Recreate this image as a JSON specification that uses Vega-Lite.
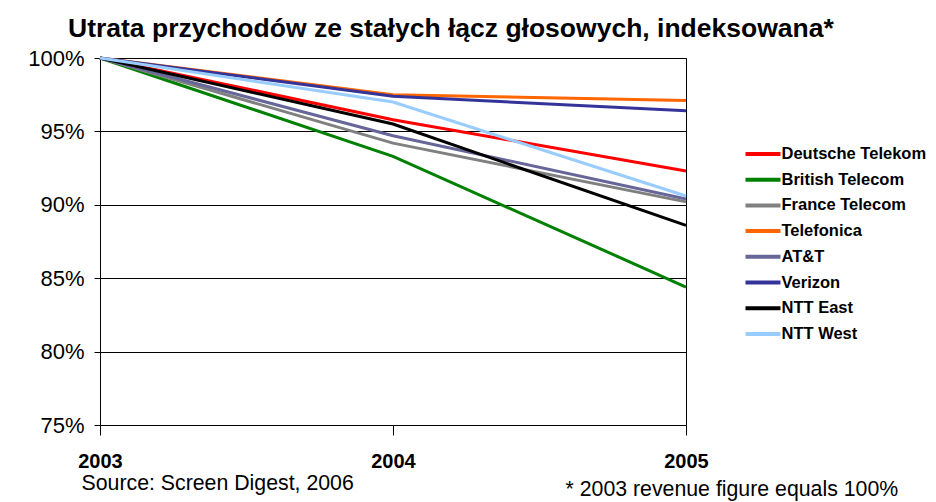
{
  "$schema": "https://vega.github.io/schema/vega-lite/v6.json",
  "autosize": {"type": "none"},
  "width": 586,
  "height": 367,
  "padding": {"left": 100, "top": 58, "right": 250, "bottom": 77},
  "background": "white",
  "title": {
    "text": "Utrata przychodów ze stałych łącz głosowych, indeksowana*",
    "anchor": "start",
    "frame": "group",
    "dx": -32,
    "dy": 34,
    "offset": 18,
    "baseline": "alphabetic",
    "font": "Liberation Sans",
    "fontSize": 26.5,
    "fontWeight": "bold",
    "color": "black"
  },
  "config": {
    "view": {"stroke": "black", "strokeWidth": 1},
    "axis": {"domainColor": "black", "tickColor": "black", "labelColor": "black", "titleColor": "black", "font": "Liberation Sans"}
  },
  "data": {
    "values": [
      {"operator": "Deutsche Telekom", "year": "2003", "value": 100},
      {"operator": "Deutsche Telekom", "year": "2004", "value": 95.8},
      {"operator": "Deutsche Telekom", "year": "2005", "value": 92.3},
      {"operator": "British Telecom", "year": "2003", "value": 100},
      {"operator": "British Telecom", "year": "2004", "value": 93.3},
      {"operator": "British Telecom", "year": "2005", "value": 84.4},
      {"operator": "France Telecom", "year": "2003", "value": 100},
      {"operator": "France Telecom", "year": "2004", "value": 94.2},
      {"operator": "France Telecom", "year": "2005", "value": 90.2},
      {"operator": "Telefonica", "year": "2003", "value": 100},
      {"operator": "Telefonica", "year": "2004", "value": 97.5},
      {"operator": "Telefonica", "year": "2005", "value": 97.1},
      {"operator": "AT&T", "year": "2003", "value": 100},
      {"operator": "AT&T", "year": "2004", "value": 94.7},
      {"operator": "AT&T", "year": "2005", "value": 90.4},
      {"operator": "Verizon", "year": "2003", "value": 100},
      {"operator": "Verizon", "year": "2004", "value": 97.4},
      {"operator": "Verizon", "year": "2005", "value": 96.4},
      {"operator": "NTT East", "year": "2003", "value": 100},
      {"operator": "NTT East", "year": "2004", "value": 95.5},
      {"operator": "NTT East", "year": "2005", "value": 88.6},
      {"operator": "NTT West", "year": "2003", "value": 100},
      {"operator": "NTT West", "year": "2004", "value": 97.0},
      {"operator": "NTT West", "year": "2005", "value": 90.6}
    ]
  },
  "mark": {"type": "line", "strokeWidth": 3},
  "encoding": {
    "x": {
      "field": "year",
      "type": "ordinal",
      "scale": {"type": "point", "padding": 0},
      "axis": {
        "grid": false,
        "labelAngle": 0,
        "tickSize": 10,
        "labelPadding": 16,
        "labelFontSize": 20,
        "labelFontWeight": "bold",
        "labelBaseline": "top",
        "labelOverlap": false,
        "title": "Source: Screen Digest, 2006",
        "titleFontSize": 21.3,
        "titleFontWeight": "normal",
        "titleAnchor": "start",
        "titleAlign": "left",
        "titleX": -19,
        "titleY": 64,
        "titleBaseline": "alphabetic"
      }
    },
    "y": {
      "field": "value",
      "type": "quantitative",
      "scale": {"domain": [75, 100], "nice": false, "zero": false},
      "axis": {
        "values": [75, 80, 85, 90, 95, 100],
        "labelExpr": "datum.value + '%'",
        "grid": true,
        "gridColor": "black",
        "gridWidth": 1,
        "gridOpacity": 1,
        "tickSize": 6,
        "labelPadding": 10,
        "labelFontSize": 22,
        "labelFontWeight": "normal",
        "title": "* 2003 revenue figure equals 100%",
        "titleAngle": 0,
        "titleFontSize": 21.3,
        "titleFontWeight": "normal",
        "titleAlign": "left",
        "titleBaseline": "alphabetic",
        "titleX": 465,
        "titleY": 437
      }
    },
    "color": {
      "field": "operator",
      "type": "nominal",
      "sort": ["Deutsche Telekom", "British Telecom", "France Telecom", "Telefonica", "AT&T", "Verizon", "NTT East", "NTT West"],
      "scale": {
        "domain": ["Deutsche Telekom", "British Telecom", "France Telecom", "Telefonica", "AT&T", "Verizon", "NTT East", "NTT West"],
        "range": ["#ff0000", "#008000", "#808080", "#ff6600", "#666699", "#333399", "#000000", "#99ccff"]
      },
      "legend": {
        "orient": "none",
        "legendX": 654,
        "legendY": 87,
        "title": null,
        "symbolType": "M-2.5,0H2.5",
        "symbolSize": 196,
        "symbolStrokeWidth": 4,
        "labelFont": "Liberation Sans",
        "labelFontSize": 16.5,
        "labelFontWeight": "bold",
        "labelColor": "black",
        "labelOffset": 9.5,
        "rowPadding": 7.7
      }
    }
  }
}
